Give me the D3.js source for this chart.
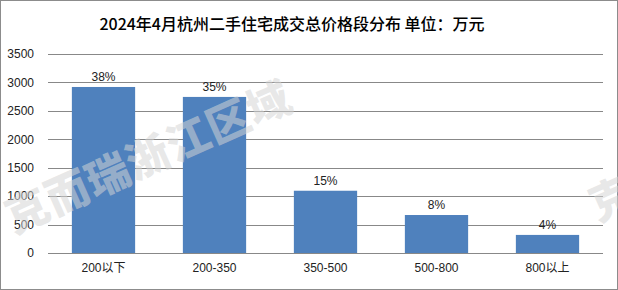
<!DOCTYPE html>
<html><head><meta charset="utf-8">
<script src="https://cdn.jsdelivr.net/npm/d3@7/dist/d3.min.js"></script>
<style>body{margin:0;background:#fff}svg{display:block}</style>
</head><body>
<script>
const categories = ["200以下", "200-350", "350-500", "500-800", "800以上"];
const values = [2920, 2745, 1095, 668, 318];
const percentLabels = ["38%", "35%", "15%", "8%", "4%"];
const yTicks = [0, 500, 1000, 1500, 2000, 2500, 3000, 3500];
const title = "2024年4月杭州二手住宅成交总价格段分布 单位：万元";
const watermark = "克而瑞浙江区域";

(function () {
const W = 618, H = 290;
const svg = d3.select("body").append("svg").attr("width", W).attr("height", H);
svg.append("rect").attr("x", 0.5).attr("y", 0.5).attr("width", W - 1).attr("height", H - 1)
  .attr("fill", "#fff").attr("stroke", "#8c8c8c");

const mLeft = 48, mRight = 603, mTop = 54, mBottom = 253;
const x = d3.scaleBand().domain(categories).range([mLeft, mRight]).paddingInner(0.43).paddingOuter(0.215);
const y = d3.scaleLinear().domain([0, 3500]).range([mBottom, mTop]);

const font = "'Liberation Sans', 'Noto Sans CJK SC', sans-serif";

// gridlines
svg.append("g").selectAll("line").data(yTicks).join("line")
  .attr("x1", mLeft).attr("x2", mRight)
  .attr("y1", d => Math.round(y(d)) + 0.5).attr("y2", d => Math.round(y(d)) + 0.5)
  .attr("stroke", "#888").attr("stroke-width", 1);

// y axis labels
const yAxis = d3.axisLeft(y).tickValues(yTicks).tickFormat(d3.format("d")).tickSize(0).tickPadding(0);
const ya = svg.append("g").attr("transform", `translate(${mLeft - 14},0)`).call(yAxis);
ya.select(".domain").remove();
ya.selectAll("text").attr("font-family", font).attr("font-size", 12).attr("fill", "#222");

// bars
svg.append("g").selectAll("rect").data(values).join("rect")
  .attr("x", (d, i) => x(categories[i]))
  .attr("width", x.bandwidth())
  .attr("y", d => y(d))
  .attr("height", d => y(0) - y(d))
  .attr("fill", "#4F81BD");

// watermark (overlay, lighter on bars)
const wm = svg.append("g").attr("pointer-events", "none");
[[14, 234], [598, 222]].forEach(p => {
  wm.append("text").attr("transform", `translate(${p[0]},${p[1]}) rotate(-24)`)
    .attr("font-family", "'Noto Sans CJK SC', sans-serif").attr("font-weight", 900)
    .attr("font-size", 43).attr("fill", "#d4d4d4").attr("fill-opacity", 0.55)
    .attr("letter-spacing", 1).text(watermark);
});

// value labels
svg.append("g").selectAll("text").data(values).join("text")
  .attr("x", (d, i) => x(categories[i]) + x.bandwidth() / 2)
  .attr("y", d => y(d) - 6)
  .attr("text-anchor", "middle")
  .attr("font-family", font).attr("font-size", 12).attr("fill", "#222")
  .text((d, i) => percentLabels[i]);

// x axis labels
const xAxis = d3.axisBottom(x).tickSize(0).tickPadding(0);
const xa = svg.append("g").attr("transform", `translate(0,${mBottom + 10})`).call(xAxis);
xa.select(".domain").remove();
xa.selectAll("text").attr("font-family", font).attr("font-size", 12).attr("fill", "#222").attr("dy", "0.71em");

// title
svg.append("text").attr("x", 292).attr("y", 30).attr("text-anchor", "middle")
  .attr("font-family", "'Noto Sans CJK SC', sans-serif").attr("font-size", 16).attr("font-weight", 500)
  .attr("fill", "#000").text(title);
})();
</script>
</body></html>
